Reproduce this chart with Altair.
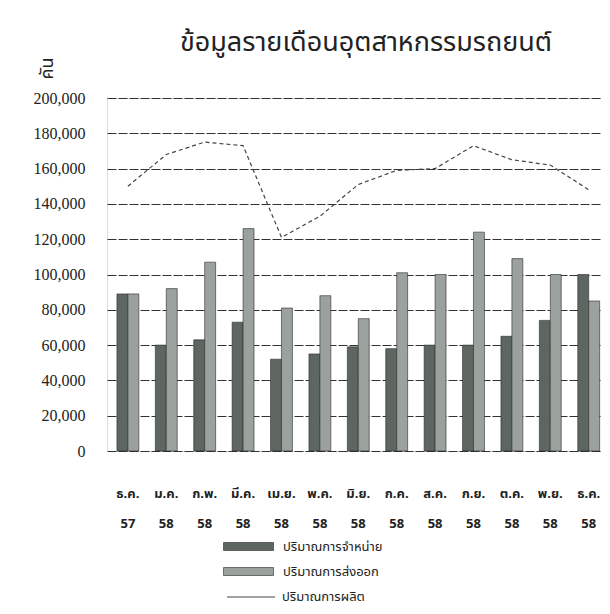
import altair as alt
import pandas as pd

months = ["ธ.ค. 57", "ม.ค. 58", "ก.พ. 58", "มี.ค. 58", "เม.ย. 58", "พ.ค. 58", "มิ.ย. 58",
          "ก.ค. 58", "ส.ค. 58", "ก.ย. 58", "ต.ค. 58", "พ.ย. 58", "ธ.ค. 58"]
sales = [89000, 60000, 63000, 73000, 52000, 55000, 59000, 58000, 60000, 60000, 65000, 74000, 100000]
exports = [89000, 92000, 107000, 126000, 81000, 88000, 75000, 101000, 100000, 124000, 109000, 100000, 85000]
production = [150000, 168000, 175000, 173000, 121000, 133000, 151000, 159000, 160000, 173000, 165000, 162000, 148000]
y_ticks = [0, 20000, 40000, 60000, 80000, 100000, 120000, 140000, 160000, 180000, 200000]

s_sales = "ปริมาณการจำหน่าย"
s_exp = "ปริมาณการส่งออก"
s_prod = "ปริมาณการผลิต"

bars_df = pd.DataFrame(
    [{"month": m, "series": s_sales, "value": v} for m, v in zip(months, sales)]
    + [{"month": m, "series": s_exp, "value": v} for m, v in zip(months, exports)]
)
line_df = pd.DataFrame({"month": months, "series": s_prod, "value": production})

THAI = "Noto Sans Thai, Noto Serif Thai, Loma, Garuda, Tlwg Typo, Noto Sans, sans-serif"

x_enc = alt.X(
    "month:N", sort=months, title=None,
    scale=alt.Scale(paddingInner=0.43, paddingOuter=0.147, align=0.88),
    axis=alt.Axis(labelAngle=0, labelExpr="split(datum.value, ' ')", labelLineHeight=30,
                  labelFont=THAI, labelFontSize=13, labelFontWeight="bold", labelColor="#222",
                  labelPadding=36, domain=False, ticks=False, grid=False),
)
y_enc = alt.Y(
    "value:Q", title="คัน",
    scale=alt.Scale(domain=[0, 200000], nice=False),
    axis=alt.Axis(values=y_ticks, format=",d", labelFont="Liberation Serif", labelOverlap=False,
                  labelFontSize=16, labelColor="#222", labelPadding=22, domain=False, ticks=False,
                  gridColor="#333", gridWidth=1, gridDash=[9, 2],
                  titleFont=THAI, titleFontSize=18, titleFontWeight="normal", titleColor="#222",
                  titleAngle=270, titleX=-60, titleY=-30, titleAlign="center", titleBaseline="middle"),
)

bars = alt.Chart(bars_df).mark_bar(stroke="#2a2a2a", strokeWidth=0.6).encode(
    x=x_enc,
    xOffset=alt.XOffset("series:N", sort=[s_sales, s_exp]),
    y=y_enc,
    color=alt.Color(
        "series:N",
        scale=alt.Scale(domain=[s_sales, s_exp], range=["#5d6661", "#9ba19d"]),
        legend=alt.Legend(title=None, orient="none", legendX=135, legendY=442, direction="vertical",
                          symbolType="M-5,-0.8H5V0.8H-5Z", symbolSize=100, symbolStrokeColor="#2a2a2a",
                          symbolStrokeWidth=0.6, symbolOpacity=1, labelOffset=28, rowPadding=11,
                          labelFont=THAI, labelFontSize=13, labelColor="#222", padding=0),
    ),
)

line = alt.Chart(line_df).mark_line(strokeWidth=1.2, strokeDash=[4, 3]).encode(
    x=x_enc,
    y=y_enc,
    stroke=alt.Stroke(
        "series:N",
        scale=alt.Scale(domain=[s_prod], range=["#444444"]),
        legend=alt.Legend(title=None, orient="none", legendX=119, legendY=474, symbolType="stroke",
                          symbolSize=2304, symbolStrokeWidth=1.2, labelOffset=6,
                          labelFont=THAI, labelFontSize=13, labelColor="#222", padding=0),
    ),
)

chart = (
    alt.layer(bars, line)
    .resolve_scale(color="independent")
    .properties(
        width=494, height=353,
        title=alt.TitleParams("ข้อมูลรายเดือนอุตสาหกรรมรถยนต์", font=THAI, fontSize=27,
                              fontWeight="normal", color="#222", anchor="middle", offset=0, dx=12),
        autosize=alt.AutoSizeParams(type="none"),
        padding={"left": 99, "top": 90, "right": 0, "bottom": 155},
    )
    .configure_view(stroke=None)
    .configure(background="white")
)

chart.save("out.html", embed_options={"renderer": "svg", "actions": False})
